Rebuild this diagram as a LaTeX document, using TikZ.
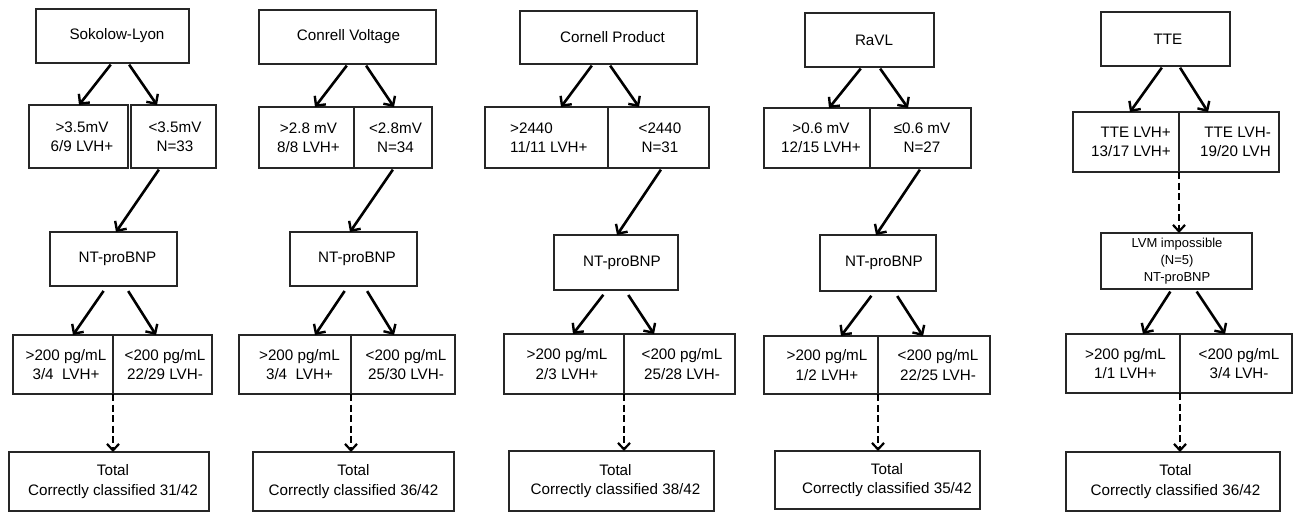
\documentclass[tikz,border=0pt]{standalone}
\usepackage{fontspec}
\setmainfont{Liberation Sans}
\usetikzlibrary{arrows.meta,fit}
\tikzset{
  boxsh/.style={draw=black!85, line width=1.4pt, inner sep=0pt, outer sep=0pt},
  txt/.style={align=center, inner sep=0pt, font=\fontsize{15.2}{19.3}\selectfont},
  small/.style={font=\fontsize{13}{17}\selectfont},
  arr/.style={line width=2.6pt, -{Straight Barb[length=7pt,width=14pt,line width=2.4pt]}, shorten <=2pt},
  arrnt/.style={arr, shorten <=6pt},
  darr/.style={line width=2.6pt, dash pattern=on 7pt off 3.5pt, -{Straight Barb[length=6.5pt,width=12pt,line width=2.2pt]}},
}
\newcommand\bx[9][]{%
  \path (#3,#4) coordinate (#2-a) (#5,#6) coordinate (#2-b);
  \node[boxsh, fit=(#2-a)(#2-b)] (#2) {};
  \node[txt,#1] (#2-t) at (#7,#8) {#9};
}
\begin{document}
\begin{tikzpicture}[x=1pt,y=-1pt]
\useasboundingbox (0,0) rectangle (1295,512);
% ---------- column 1
\bx{top1}{36}{9}{189}{63}{117}{36}{Sokolow-Lyon}
\bx{s1L}{29}{105}{128}{168}{82}{136.5}{>3.5mV\\6/9 LVH+}
\bx{s1R}{131}{105}{216}{168}{175}{136.5}{<3.5mV\\N=33}
\bx{nt1}{50}{232}{177}{286}{117.5}{259}{NT-proBNP}
\bx{p1L}{13}{335}{113}{394}{66}{364.5}{>200 pg/mL\\3/4\ \ LVH+}
\bx{p1R}{113}{335}{212}{394}{165}{364.5}{<200 pg/mL\\22/29 LVH-}
\bx{tot1}{9}{452}{209}{511}{113}{481.5}{Total\\Correctly classified 31/42}
\draw[arr] (top1.south -| 112,0) -- (s1L.north -| 79,0);
\draw[arr] (top1.south -| 128,0) -- (s1R.north -| 157,0);
\draw[arr] (s1R.south -| 160,0) -- (nt1.north -| 116,0);
\draw[arrnt] (nt1.south -| 107,0) -- (p1L.north -| 73,0);
\draw[arrnt] (nt1.south -| 125,0) -- (p1R.north -| 156,0);
\draw[darr] (p1L.south east) -- (tot1.north -| p1L.south east);
% ---------- column 2
\bx{top2}{259}{10}{436}{64}{348.5}{37}{Conrell Voltage}
\bx{s2L}{259}{107}{354}{168}{308.5}{137.5}{>2.8 mV\\8/8 LVH+}
\bx{s2R}{354}{107}{432}{168}{395.5}{137.5}{<2.8mV\\N=34}
\bx{nt2}{290}{232}{417}{286}{357}{259}{NT-proBNP}
\bx{p2L}{239}{335}{351}{394}{299.5}{364.5}{>200 pg/mL\\3/4\ \ LVH+}
\bx{p2R}{351}{335}{455}{394}{406}{364.5}{<200 pg/mL\\25/30 LVH-}
\bx{tot2}{253}{452}{454}{511}{353.5}{481.5}{Total\\Correctly classified 36/42}
\draw[arr] (top2.south -| 348,0) -- (s2L.north -| 315,0);
\draw[arr] (top2.south -| 365,0) -- (s2R.north -| 394,0);
\draw[arr] (s2R.south -| 394,0) -- (nt2.north -| 350,0);
\draw[arrnt] (nt2.south -| 348,0) -- (p2L.north -| 315,0);
\draw[arrnt] (nt2.south -| 364,0) -- (p2R.north -| 394,0);
\draw[darr] (p2L.south east) -- (tot2.north -| p2L.south east);
% ---------- column 3
\bx{top3}{520}{11}{697}{64}{612.5}{37.5}{Cornell Product}
\bx[anchor=west,align=left]{s3L}{485}{107}{608}{168}{510}{137.5}{ >2440\\11/11 LVH+}
\bx{s3R}{608}{107}{709}{168}{660}{137.5}{<2440\\N=31}
\bx{nt3}{554}{235}{678}{290}{622}{262.5}{NT-proBNP}
\bx{p3L}{504}{334}{624}{394}{567}{364}{>200 pg/mL\\2/3 LVH+}
\bx{p3R}{624}{334}{735}{394}{682}{364}{<200 pg/mL\\25/28 LVH-}
\bx{tot3}{509}{451}{714}{511}{615.5}{481}{Total\\Correctly classified 38/42}
\draw[arr] (top3.south -| 593,0) -- (s3L.north -| 561,0);
\draw[arr] (top3.south -| 609,0) -- (s3R.north -| 639,0);
\draw[arr] (s3R.south -| 662,0) -- (nt3.north -| 617,0);
\draw[arrnt] (nt3.south -| 607,0) -- (p3L.north -| 573,0);
\draw[arrnt] (nt3.south -| 625,0) -- (p3R.north -| 654,0);
\draw[darr] (p3L.south east) -- (tot3.north -| p3L.south east);
% ---------- column 4
\bx{top4}{805}{13}{934}{67}{874}{40}{RaVL}
\bx{s4L}{764}{108}{870}{168}{821}{138}{>0.6 mV\\12/15 LVH+}
\bx{s4R}{870}{108}{971}{168}{922}{138}{≤0.6 mV\\N=27}
\bx{nt4}{820}{235}{936}{291}{884}{263}{NT-proBNP}
\bx{p4L}{764}{336}{878}{394}{827}{365}{>200 pg/mL\\1/2 LVH+}
\bx{p4R}{878}{336}{990}{394}{938}{365}{<200 pg/mL\\22/25 LVH-}
\bx{tot4}{775}{451}{980}{509}{887}{480}{Total\\Correctly classified 35/42}
\draw[arr] (top4.south -| 862,0) -- (s4L.north -| 829,0);
\draw[arr] (top4.south -| 879,0) -- (s4R.north -| 908,0);
\draw[arr] (s4R.south -| 921,0) -- (nt4.north -| 876,0);
\draw[arrnt] (nt4.south -| 875,0) -- (p4L.north -| 841,0);
\draw[arrnt] (nt4.south -| 894,0) -- (p4R.north -| 923,0);
\draw[darr] (p4L.south east) -- (tot4.north -| p4L.south east);
% ---------- column 5
\bx{top5}{1101}{12}{1230}{66}{1168}{39}{TTE}
\bx[anchor=east,align=right]{s5L}{1073}{112}{1179}{172}{1171}{142}{TTE LVH+\\13/17 LVH+}
\bx[anchor=east,align=right]{s5R}{1179}{112}{1279}{172}{1271}{142}{TTE LVH-\\19/20 LVH}
\bx[small]{lvm}{1101}{233}{1252}{289}{1177}{261}{LVM impossible\\(N=5)\\NT-proBNP}
\bx{p5L}{1066}{334}{1180}{393}{1125.5}{363.5}{>200 pg/mL\\1/1 LVH+}
\bx{p5R}{1180}{334}{1292}{393}{1239}{363.5}{<200 pg/mL\\3/4 LVH-}
\bx{tot5}{1066}{452}{1280}{511}{1175.5}{481.5}{Total\\Correctly classified 36/42}
\draw[arr] (top5.south -| 1163,0) -- (s5L.north -| 1130,0);
\draw[arr] (top5.south -| 1179,0) -- (s5R.north -| 1208,0);
\draw[darr] (s5L.south east) -- (lvm.north -| s5L.south east);
\draw[arr,shorten <=3pt] (lvm.south -| 1172,0) -- (p5L.north -| 1143,0);
\draw[arr,shorten <=3pt] (lvm.south -| 1195,0) -- (p5R.north -| 1225,0);
\draw[darr] (p5L.south east) -- (tot5.north -| p5L.south east);
\end{tikzpicture}
\end{document}
